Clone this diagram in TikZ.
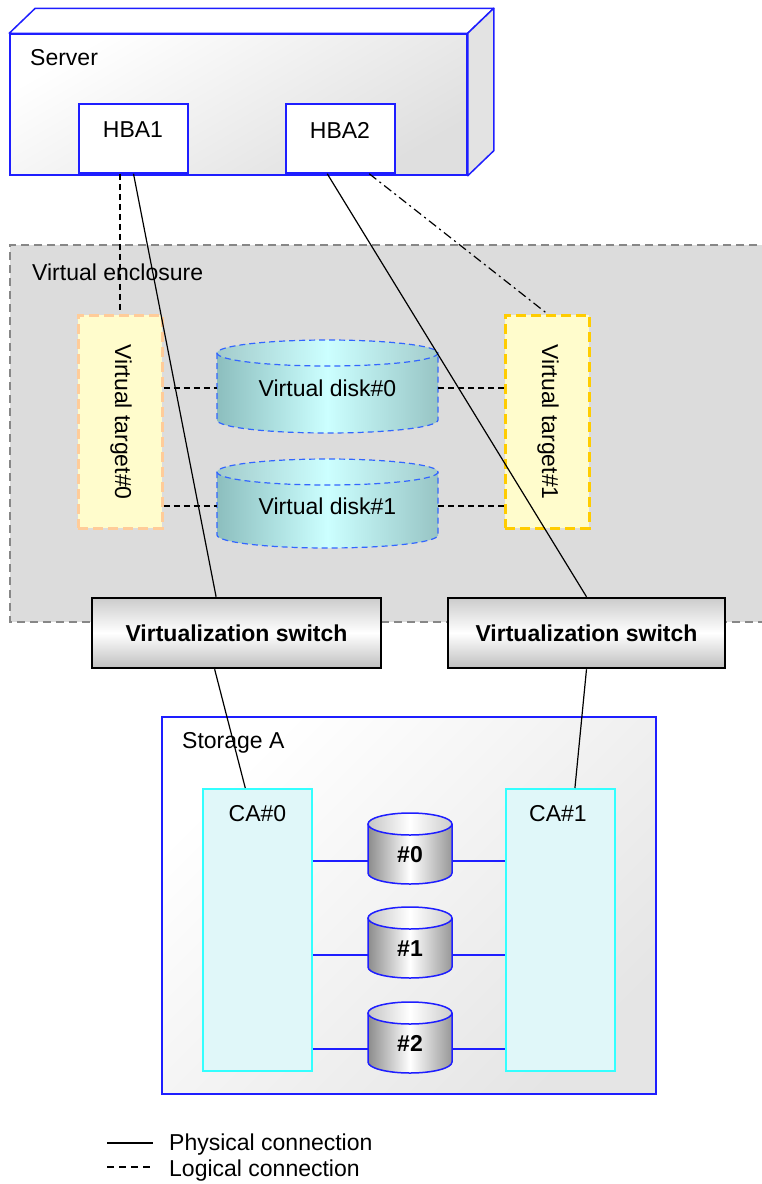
\documentclass[tikz,border=0pt]{standalone}
\usepackage{fontspec}
\setmainfont{Liberation Sans}
\usetikzlibrary{calc}
\definecolor{srvblue}{RGB}{30,30,255}
\definecolor{encfill}{RGB}{220,220,220}
\definecolor{encborder}{RGB}{135,135,135}
\definecolor{vtfill}{RGB}{255,252,204}
\definecolor{vtzero}{RGB}{255,204,153}
\definecolor{vtone}{RGB}{255,204,0}
\definecolor{vdblue}{RGB}{51,102,255}
\definecolor{vdteal}{RGB}{140,190,190}
\definecolor{vdcyan}{RGB}{204,255,255}
\definecolor{cacyan}{RGB}{51,255,255}
\definecolor{cafill}{RGB}{224,247,249}
\definecolor{diskgray}{RGB}{140,140,140}
\newcommand\cylshape[8]{%
  \path[#6] (#1-#4,#2) rectangle (#1+#4,#3);
  \path[#6] (#1,#3) ellipse [x radius=#4, y radius=#5];
  \path[#7] (#1,#2) ellipse [x radius=#4, y radius=#5];
  \draw[#8] (#1-#4,#2) -- (#1-#4,#3) .. controls (#1-#4,#3+0.5523*#5) and (#1-0.5523*#4,#3+#5) .. (#1,#3+#5) .. controls (#1+0.5523*#4,#3+#5) and (#1+#4,#3+0.5523*#5) .. (#1+#4,#3) -- (#1+#4,#2);
  \draw[#8] (#1,#2) ellipse [x radius=#4, y radius=#5];
}
\begin{document}
\begin{tikzpicture}[x=1pt,y=-1pt,
  every node/.style={font=\fontsize{23}{27}\selectfont, inner sep=0pt},
  hbabox/.style={draw=srvblue, line width=1.5pt, fill=white, minimum width=109pt, minimum height=69pt},
  vtbox/.style={fill=vtfill, line width=3pt, dash pattern=on 10pt off 5pt, minimum width=84pt, minimum height=213pt},
  swbox/.style={draw=black, line width=2.5pt, top color=gray!40, bottom color=gray!50, middle color=white, minimum height=70pt, font=\fontsize{23}{27}\selectfont\bfseries},
  phys/.style={draw=black, line width=1.2pt},
  logic/.style={draw=black, line width=1.2pt, dash pattern=on 6pt off 4pt},
  logicdd/.style={draw=black, line width=1.2pt, dash pattern=on 9pt off 4pt on 2pt off 4pt},
  cabox/.style={draw=cacyan, line width=2pt, fill=cafill, minimum width=109pt, minimum height=282pt},
  dlink/.style={draw=srvblue, line width=1.5pt},
  vdfill/.style={left color=vdteal, right color=vdteal!90, middle color=vdcyan},
  vdtop/.style={left color=vdteal!80, right color=vdteal!80, middle color=vdcyan},
  vddraw/.style={draw=vdblue, line width=1.2pt, dash pattern=on 6pt off 4pt},
  sdfill/.style={left color=diskgray, right color=diskgray!90, middle color=white},
  sdtop/.style={left color=gray!45, right color=gray!40, middle color=white},
  sddraw/.style={draw=srvblue, line width=1.5pt}]
\useasboundingbox (0,0) rectangle (761,1184);

% Server
\node[draw=srvblue, line width=1.5pt, top color=white, bottom color=gray!25, shading angle=30, minimum width=457pt, minimum height=141pt] (srv) at (238.5,104.5) {};
\filldraw[draw=srvblue, line width=1.5pt, fill=white, line join=round] (srv.north west) -- ++(26,-25) -- ($(srv.north east)+(26,-25)$) -- (srv.north east) -- cycle;
\filldraw[draw=srvblue, line width=1.5pt, fill=gray!22, line join=round] (srv.north east) -- ++(26,-25) -- ($(srv.south east)+(26,-25)$) -- (srv.south east) -- cycle;
\node[anchor=west] (srvlbl) at (30,58) {Server};
\node[hbabox] (hba1) at (133.5,138.5) {};
\node (hba1t) at (133,130) {HBA1};
\node[hbabox] (hba2) at (340.5,138.5) {};
\node (hba2t) at (340,130) {HBA2};

% Virtual enclosure
\path[fill=encfill] (10,245) rectangle (770,622);
\draw[draw=encborder, line width=2pt, dash pattern=on 8pt off 5pt] (770,245) -- (10,245) -- (10,622) -- (770,622);
\node[anchor=west] (enclbl) at (32,272) {Virtual enclosure};

% Virtual targets
\node[vtbox, draw=vtzero] (vt0) at (120,421.5) {};
\node[rotate=-90] (vt0t) at (121,422) {Virtual target\#0};
\node[vtbox, draw=vtone] (vt1) at (547,421.5) {};
\node[rotate=-90] (vt1t) at (548,422) {Virtual target\#1};

% Virtual disks
\cylshape{327.5}{353}{420}{110.5}{13}{vdfill}{vdtop}{vddraw}
\node[minimum width=221pt] (vd0) at (327.5,388) {Virtual disk\#0};
\cylshape{327.5}{472}{535}{110.5}{13}{vdfill}{vdtop}{vddraw}
\node[minimum width=221pt] (vd1) at (327.5,506) {Virtual disk\#1};

\draw[logic] (vt0.east |- vd0.west) -- (vd0.west);
\draw[logic] (vt0.east |- vd1.west) -- (vd1.west);
\draw[logic] (vd0.east) -- (vt1.west |- vd0.east);
\draw[logic] (vd1.east) -- (vt1.west |- vd1.east);

% Switches
\node[swbox, minimum width=289pt] (sw1) at (236.5,633) {Virtualization switch};
\node[swbox, minimum width=277pt] (sw2) at (586.5,633) {Virtualization switch};

% Storage
\node[draw=srvblue, line width=2pt, top color=white, bottom color=gray!20, shading angle=45, minimum width=494pt, minimum height=377pt] (stor) at (409,905.5) {};
\node[anchor=west] (storlbl) at (182,743) {Storage A};
\node[cabox] (ca0) at (257.5,930) {};
\node (ca0t) at (257.5,814) {CA\#0};
\node[cabox] (ca1) at (560.5,930) {};
\node (ca1t) at (558,814) {CA\#1};

\cylshape{410}{824}{873}{42}{11}{sdfill}{sdtop}{sddraw}
\node[minimum width=84pt] (d0) at (410,861) {};
\node (d0t) at (410,855) {\bfseries\#0};
\cylshape{410}{918}{967}{42}{11}{sdfill}{sdtop}{sddraw}
\node[minimum width=84pt] (d1) at (410,955) {};
\node (d1t) at (410,949) {\bfseries\#1};
\cylshape{410}{1013}{1062}{42}{11}{sdfill}{sdtop}{sddraw}
\node[minimum width=84pt] (d2) at (410,1049) {};
\node (d2t) at (410,1043) {\bfseries\#2};

\foreach \d in {d0,d1,d2}{
  \draw[dlink] (ca0.east |- \d.west) -- (\d.west);
  \draw[dlink] (\d.east) -- (ca1.west |- \d.east);
}

% Connections
\draw[logic] (vt0.north |- hba1.south) -- (vt0.north);
\draw[phys] (hba1.south) -- ($(sw1.north west)!0.43!(sw1.north east)$);
\draw[phys] ($(sw1.south west)!0.425!(sw1.south east)$) -- ($(ca0.north west)!0.39!(ca0.north east)$);
\draw[phys] ($(hba2.south west)!0.38!(hba2.south east)$) -- (sw2.north);
\draw[phys] (sw2.south) -- ($(ca1.north west)!0.63!(ca1.north east)$);
\draw[logicdd] ($(hba2.south west)!0.76!(hba2.south east)$) -- (vt1.north);

% Legend
\coordinate (la1) at (107,1143);
\coordinate (lb1) at (153,1143);
\draw[phys] (la1) -- (lb1);
\node[anchor=west] (lt1) at (169,1145) {Physical connection};
\coordinate (la2) at (107,1167);
\coordinate (lb2) at (153,1167);
\draw[draw=black, line width=1.2pt, dash pattern=on 7pt off 5pt] (la2) -- (lb2);
\node[anchor=west] (lt2) at (169,1171) {Logical connection};
\end{tikzpicture}
\end{document}
